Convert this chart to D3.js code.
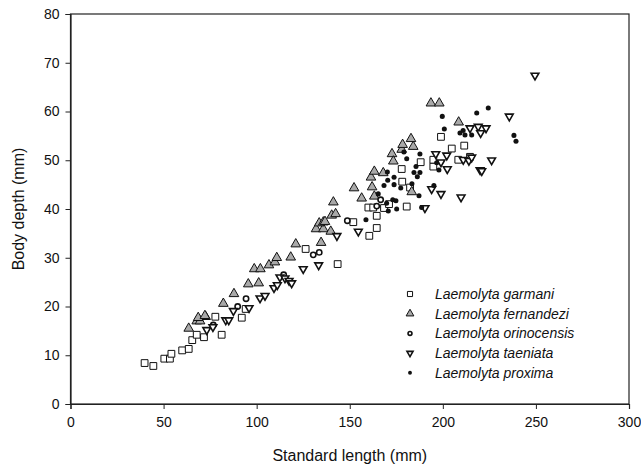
<!DOCTYPE html>
<html>
<head>
<meta charset="utf-8">
<script src="https://cdn.jsdelivr.net/npm/d3@7"></script>
<style>
  body { margin: 0; background: #fff; }
  svg { font-family: "Liberation Sans", Arial, sans-serif; }
</style>
</head>
<body>
<svg width="641" height="471"></svg>
<script>
// standard length (mm), body depth (mm) per species
var garmani = [[39.8,8.4],[44.5,7.8],[50.4,9.3],[53.4,9.3],[54.2,10.3],[60,11],[63.5,11.3],[65.4,13.1],
  [67.8,14.2],[71.7,13.7],[77.8,17.9],[81.2,14.2],[92,17.7],[94.1,19.5],[126.3,31.8],[143.5,28.7],
  [160.5,34.5],[164.5,36.1],[151.9,37.3],[164.5,38.6],[160,40.3],[162.6,40.3],[168.4,40.2],[171.1,41],
  [180.6,40.5],[182.4,44.4],[178.2,45.6],[177.9,48.2],[188.1,49.6],[194.9,48.7],[194.9,50.1],[208.3,50.1],
  [199,54.8],[204.8,52.4],[211.5,53],[214.6,50.7]];
var fernandezi = [[63.5,15.5],[67.8,17],[69.6,17],[72.6,17.9],[68.6,17.7],[72.2,18.1],[82.1,20.6],[87.8,22.6],
  [95.5,24.6],[101.1,24.8],[98.7,27.7],[102,27.7],[106.6,28.5],[109.8,29.1],[110.8,30],[118.3,30.1],
  [121,32.8],[134.6,33.1],[131.9,35.9],[135.8,35.9],[139.8,35.4],[133.6,37.1],[135.8,37.3],[140.3,38.7],
  [142.4,39],[141.2,41.4],[152.3,44.3],[156.4,42.2],[163.2,42.6],[162,44.5],[161.4,46.5],[163.2,47.7],
  [168,47.4],[172.7,51.3],[173.4,49.8],[177.9,52.2],[178.4,53.2],[184.1,52.8],[182.9,54.4],[193.6,61.7],
  [198.1,61.7],[208.5,57.8],[183.3,43.5],[136.7,37.4]];
var orinocensis = [[76.7,16.2],[89.8,20],[94.3,21.6],[114.5,26.5],[130.4,30.6],[133.6,31.1],[148.7,37.6],
  [166.6,41.9],[164.5,40.6]];
var taeniata = [[73.2,15.2],[76.5,15.8],[83.4,17.2],[85,17.2],[87.5,19.1],[95.9,19.7],[101.8,21.7],[104.5,22.2],
  [109.3,23.8],[111.1,24.4],[112.5,26],[115.2,25.8],[117.4,25.3],[118.8,24.8],[125,27.7],[133.3,28.5],
  [143.1,34.5],[154.6,35.4],[190.4,40.2],[194,44.1],[199,43.1],[209.8,42.4],[196.2,51.3],[202.1,51],
  [199,49.6],[202.4,48.2],[211,50.1],[214,49.9],[215.5,50.6],[220,48],[214.6,56.6],[219,56.9],[223.2,56.6],
  [220.3,55.6],[226.2,50],[220.9,47.8],[235.7,59],[249.5,67.4]];
var proxima = [[158.7,37.8],[165.3,43.1],[168.4,44.8],[170.4,45.9],[170.2,47.6],[173.8,46.5],[173.8,45],
  [177.4,44.3],[183.4,45.2],[186.3,46.6],[184.5,47.5],[187.7,47.5],[185.6,48.7],[180.6,50.3],[179.1,51.7],
  [187.7,51.3],[196.7,49.5],[197.9,48],[173.1,41.9],[174.8,41.7],[170.7,39.6],[175.2,40],[188.6,40.3],
  [187.2,42.7],[199.7,59],[200.8,56.4],[209.2,55.6],[210.9,56.1],[211.9,55.2],[215.5,55.2],[218.2,59.7],
  [224.4,60.7],[238.2,55.1],[239.3,53.9],[195.2,44.8],[169.8,41.2]];

var speciesNames = ["Laemolyta garmani","Laemolyta fernandezi","Laemolyta orinocensis","Laemolyta taeniata","Laemolyta proxima"];
var xTicks = [0,50,100,150,200,250,300];
var yTicks = [0,10,20,30,40,50,60,70,80];

var svg = d3.select("svg");
var margin = {left: 70.5, right: 12, top: 14, bottom: 67};
var width = +svg.attr("width"), height = +svg.attr("height");

var x = d3.scaleLinear().domain([0,300]).range([margin.left, width - margin.right]);
var y = d3.scaleLinear().domain([0,80]).range([height - margin.bottom, margin.top]);

// frame
svg.append("rect")
  .attr("x", x(0)).attr("y", y(80))
  .attr("width", x(300) - x(0)).attr("height", y(0) - y(80))
  .attr("fill", "none").attr("stroke", "#222").attr("stroke-width", 1.2);

var xAxis = svg.append("g")
  .attr("transform", "translate(0," + y(0) + ")")
  .call(d3.axisBottom(x).tickValues(xTicks).tickSize(5).tickPadding(8));
var yAxis = svg.append("g")
  .attr("transform", "translate(" + x(0) + ",0)")
  .call(d3.axisLeft(y).tickValues(yTicks).tickSize(5).tickPadding(6));
[xAxis, yAxis].forEach(function(a) {
  a.select(".domain").attr("stroke", "#222").attr("stroke-width", 1.2);
  a.selectAll(".tick line").attr("stroke", "#222");
  a.selectAll("text").attr("font-size", 14).attr("fill", "#111")
    .attr("font-family", "'Liberation Sans', Arial, sans-serif");
});

svg.append("text")
  .attr("x", (x(0) + x(300)) / 2).attr("y", 461)
  .attr("text-anchor", "middle").attr("font-size", 16).attr("fill", "#111")
  .text("Standard length (mm)");
svg.append("text")
  .attr("transform", "translate(24," + ((y(0) + y(80)) / 2) + ") rotate(-90)")
  .attr("text-anchor", "middle").attr("font-size", 16).attr("fill", "#111")
  .text("Body depth (mm)");

// marker styles
var styles = [
  {type: d3.symbolSquare, size: 46, fill: "#fff", stroke: "#111", sw: 1, rot: 0, lsize: 26},
  {type: d3.symbolTriangle, size: 40, fill: "#a9a9a9", stroke: "#111", sw: 1, rot: 0, lsize: 26},
  {type: d3.symbolCircle, size: 22, fill: "#fff", stroke: "#111", sw: 1.6, rot: 0, lsize: 12},
  {type: d3.symbolTriangle, size: 26, fill: "#fff", stroke: "#111", sw: 1.6, rot: 180, lsize: 16},
  {type: d3.symbolCircle, size: 20, fill: "#111", stroke: "none", sw: 0, rot: 0, lsize: 12}
];
var series = [garmani, fernandezi, orinocensis, taeniata, proxima];

series.forEach(function(data, i) {
  var s = styles[i];
  svg.append("g").selectAll("path")
    .data(data)
    .enter().append("path")
    .attr("d", d3.symbol().type(s.type).size(s.size))
    .attr("transform", function(d) {
      return "translate(" + x(d[0]) + "," + y(d[1]) + ") rotate(" + s.rot + ")";
    })
    .attr("fill", s.fill)
    .attr("stroke", s.stroke)
    .attr("stroke-width", s.sw);
});

// legend
var legend = svg.append("g");
speciesNames.forEach(function(name, i) {
  var s = styles[i];
  var ly = 294 + i * 19.7;
  legend.append("path")
    .attr("d", d3.symbol().type(s.type).size(s.lsize))
    .attr("transform", "translate(410," + ly + ") rotate(" + s.rot + ")")
    .attr("fill", s.fill).attr("stroke", s.stroke).attr("stroke-width", s.sw);
  legend.append("text")
    .attr("x", 435).attr("y", ly + 5)
    .attr("font-size", 14).attr("font-style", "italic").attr("fill", "#111")
    .text(name);
});
</script>
</body>
</html>
